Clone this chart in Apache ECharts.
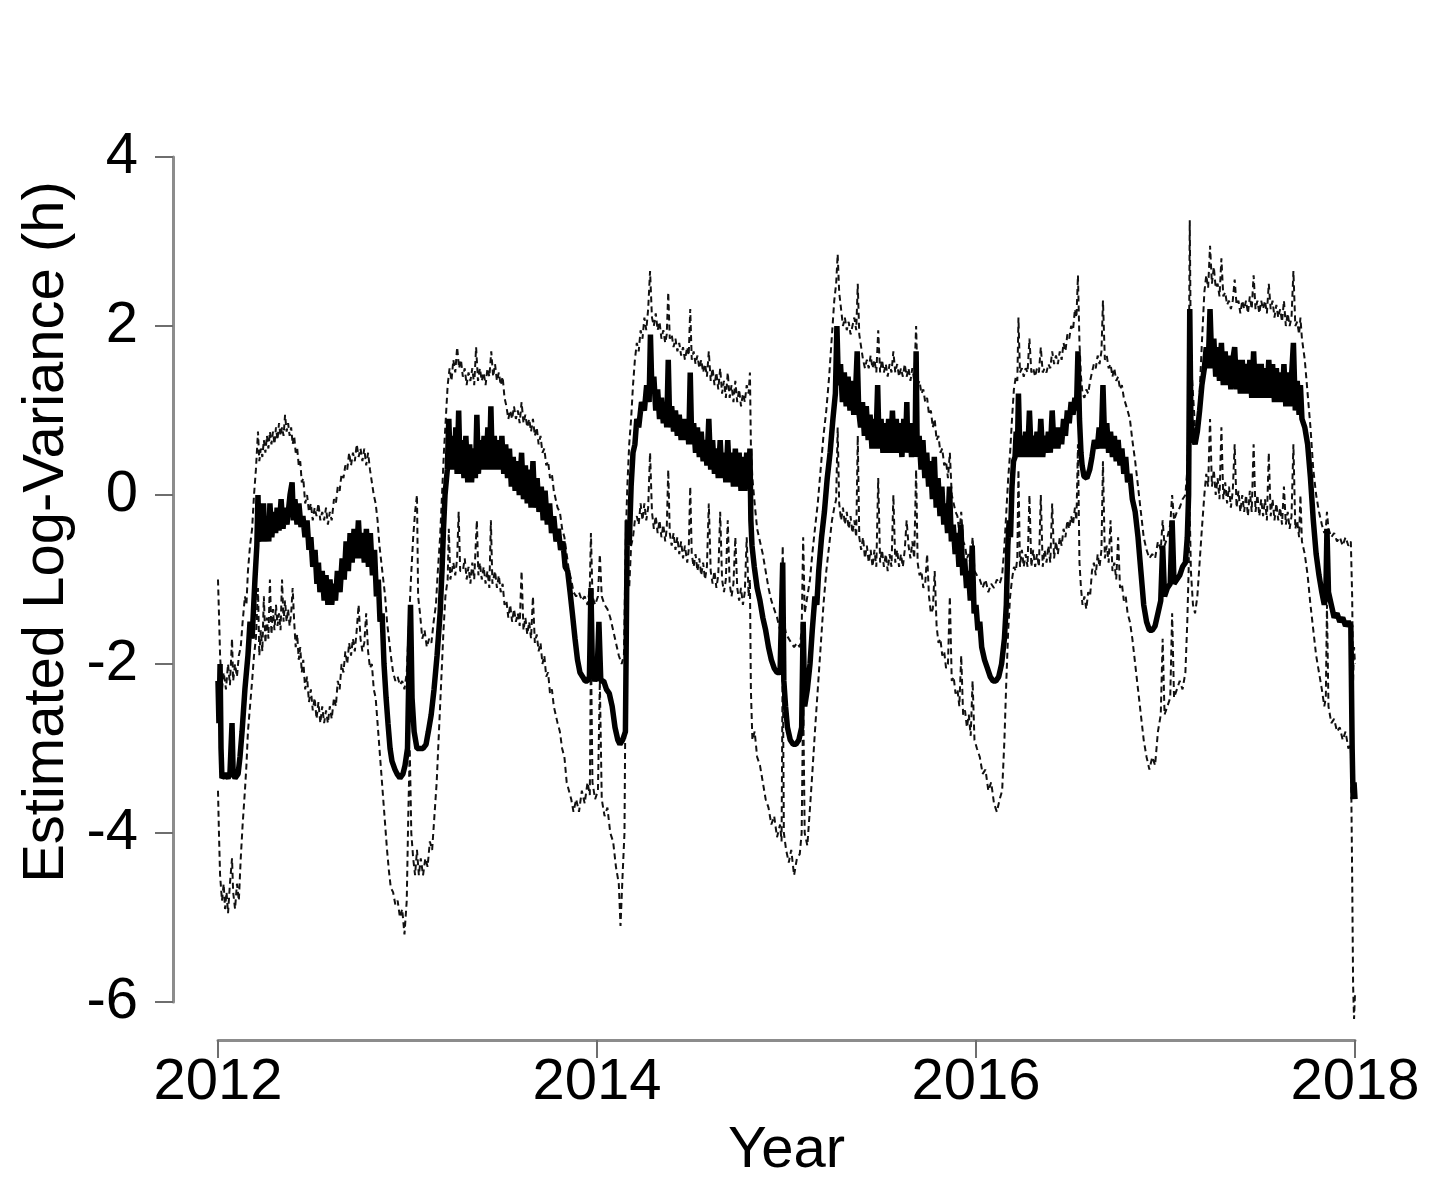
<!DOCTYPE html>
<html>
<head>
<meta charset="utf-8">
<script src="https://cdn.jsdelivr.net/npm/echarts@6/dist/echarts.min.js"></script>
<style>
html,body{margin:0;padding:0;background:#fff;}
#chart{width:1435px;height:1196px;}
</style>
</head>
<body>
<div id="chart"></div>
<script>
// ---- Data: [decimal year, estimated log-variance] ----
const xTicks = [2012, 2014, 2016, 2018];
const yTicks = [-6, -4, -2, 0, 2, 4];

const meanLine = [
[2012.000,-2.2],[2012.005,-2.7],[2012.011,-2.0],[2012.016,-3.0],[2012.021,-3.35],[2012.037,-3.3],[2012.053,-3.35],[2012.063,-3.3],[2012.074,-2.7],[2012.080,-3.3],[2012.090,-3.35],[2012.106,-3.3],[2012.116,-3.1],[2012.127,-2.8],[2012.142,-2.3],[2012.158,-1.9],[2012.169,-1.5],[2012.180,-1.7],[2012.195,-1.0],[2012.205,-0.6],[2012.211,0.0],[2012.216,-0.5],[2012.222,-0.4],
[2012.232,-0.55],[2012.240,-0.1],[2012.248,-0.55],[2012.258,-0.25],[2012.268,-0.55],[2012.274,-0.1],[2012.284,-0.5],[2012.294,-0.2],[2012.304,-0.45],[2012.312,-0.15],[2012.322,-0.42],[2012.333,-0.05],[2012.343,-0.4],[2012.354,-0.15],[2012.364,-0.35],[2012.380,0.0],[2012.391,0.15],[2012.398,-0.3],[2012.406,-0.05],[2012.417,-0.35],[2012.427,-0.1],[2012.438,-0.38],[2012.448,-0.25],[2012.459,-0.5],[2012.470,-0.3],[2012.480,-0.65],[2012.490,-0.5],[2012.500,-0.85],[2012.512,-0.65],[2012.522,-1.05],[2012.530,-0.8],[2012.538,-1.15],[2012.550,-0.9],[2012.560,-1.25],[2012.570,-0.95],[2012.580,-1.3],[2012.591,-1.0],[2012.600,-1.3],[2012.610,-1.05],[2012.620,-1.25],[2012.630,-0.9],[2012.644,-1.15],[2012.655,-0.75],[2012.666,-1.0],[2012.676,-0.55],[2012.688,-0.9],[2012.697,-0.45],[2012.708,-0.8],[2012.718,-0.4],[2012.730,-0.75],[2012.741,-0.3],[2012.752,-0.75],[2012.762,-0.45],[2012.772,-0.8],[2012.783,-0.4],[2012.794,-0.85],[2012.804,-0.45],[2012.815,-0.95],[2012.826,-0.65],[2012.836,-1.2],[2012.846,-1.0],[2012.855,-1.5],[2012.866,-1.4],[2012.876,-2.0],[2012.887,-2.4],[2012.897,-2.7],[2012.908,-3.0],[2012.918,-3.15],[2012.934,-3.25],[2012.945,-3.3],[2012.960,-3.35],[2012.976,-3.3],[2012.987,-3.2],
[2013.000,-3.0],[2013.008,-2.0],[2013.016,-1.3],[2013.024,-2.4],[2013.035,-2.8],[2013.050,-3.0],[2013.066,-3.0],[2013.082,-3.0],[2013.098,-2.95],[2013.110,-2.8],[2013.125,-2.6],[2013.140,-2.3],[2013.156,-1.9],[2013.172,-1.4],[2013.182,-0.9],[2013.190,-0.4],[2013.198,0.0],[2013.210,0.3],[2013.218,0.9],[2013.226,0.3],[2013.236,0.7],[2013.246,0.3],[2013.255,0.8],[2013.262,0.25],[2013.270,1.0],[2013.278,0.25],[2013.288,0.65],[2013.298,0.2],[2013.308,0.7],[2013.318,0.15],[2013.328,0.6],[2013.338,0.15],[2013.348,0.55],[2013.358,0.2],[2013.366,0.95],[2013.374,0.25],[2013.384,0.65],[2013.394,0.3],[2013.404,0.7],[2013.414,0.3],[2013.424,0.8],[2013.432,0.3],[2013.440,1.05],[2013.448,0.3],[2013.458,0.7],[2013.468,0.3],[2013.478,0.65],[2013.488,0.3],[2013.498,0.7],[2013.508,0.25],[2013.518,0.6],[2013.528,0.2],[2013.538,0.55],[2013.548,0.1],[2013.558,0.45],[2013.568,0.05],[2013.580,0.4],[2013.590,0.0],[2013.602,0.5],[2013.612,-0.05],[2013.622,0.35],[2013.632,-0.1],[2013.642,0.3],[2013.652,-0.15],[2013.662,0.4],[2013.672,-0.15],[2013.684,0.2],[2013.694,-0.2],[2013.706,0.1],[2013.716,-0.3],[2013.726,0.05],[2013.738,-0.35],[2013.750,-0.1],[2013.760,-0.45],[2013.772,-0.25],[2013.784,-0.55],[2013.796,-0.4],[2013.808,-0.65],[2013.820,-0.55],[2013.832,-0.85],[2013.845,-0.9],[2013.858,-1.15],[2013.870,-1.4],[2013.884,-1.7],[2013.897,-1.95],[2013.910,-2.1],[2013.924,-2.15],[2013.937,-2.2],[2013.950,-2.2],[2013.960,-2.15],[2013.968,-1.1],[2013.976,-2.1],[2013.989,-2.2],
[2014.000,-2.15],[2014.010,-1.5],[2014.020,-2.2],[2014.035,-2.2],[2014.050,-2.3],[2014.065,-2.35],[2014.080,-2.5],[2014.095,-2.75],[2014.110,-2.9],[2014.121,-2.95],[2014.135,-2.9],[2014.150,-2.8],[2014.160,-0.3],[2014.170,-0.6],[2014.180,0.1],[2014.190,0.5],[2014.200,0.6],[2014.210,0.9],[2014.220,0.8],[2014.235,1.1],[2014.250,1.0],[2014.262,1.3],[2014.275,1.1],[2014.282,1.9],[2014.290,1.2],[2014.300,1.4],[2014.310,1.0],[2014.320,1.25],[2014.330,0.9],[2014.340,1.15],[2014.350,0.85],[2014.360,1.1],[2014.368,0.8],[2014.376,1.6],[2014.384,0.8],[2014.394,1.05],[2014.404,0.75],[2014.414,1.0],[2014.424,0.7],[2014.434,0.95],[2014.444,0.65],[2014.454,0.9],[2014.464,0.65],[2014.476,0.9],[2014.484,0.6],[2014.492,1.45],[2014.500,0.6],[2014.510,0.85],[2014.520,0.5],[2014.530,0.8],[2014.540,0.45],[2014.550,0.75],[2014.560,0.4],[2014.570,0.65],[2014.580,0.35],[2014.590,0.9],[2014.600,0.3],[2014.610,0.65],[2014.620,0.25],[2014.630,0.55],[2014.640,0.2],[2014.650,0.65],[2014.660,0.2],[2014.670,0.5],[2014.680,0.15],[2014.690,0.65],[2014.700,0.15],[2014.710,0.5],[2014.720,0.1],[2014.730,0.55],[2014.740,0.1],[2014.750,0.5],[2014.760,0.05],[2014.770,0.45],[2014.780,0.05],[2014.790,0.5],[2014.800,0.1],[2014.807,0.55],[2014.812,-0.3],[2014.818,-0.6],[2014.830,-0.85],[2014.845,-1.1],[2014.860,-1.25],[2014.875,-1.45],[2014.890,-1.6],[2014.905,-1.8],[2014.920,-1.95],[2014.935,-2.05],[2014.950,-2.1],[2014.966,-2.1],[2014.974,-2.1],[2014.980,-0.8],[2014.986,-2.2],[2014.995,-2.5],
[2015.005,-2.75],[2015.020,-2.9],[2015.035,-2.95],[2015.050,-2.95],[2015.065,-2.9],[2015.080,-2.75],[2015.088,-1.5],[2015.096,-2.5],[2015.110,-2.3],[2015.124,-2.0],[2015.136,-1.6],[2015.150,-1.2],[2015.160,-1.3],[2015.170,-0.9],[2015.185,-0.5],[2015.200,-0.2],[2015.215,0.2],[2015.230,0.5],[2015.245,0.9],[2015.258,1.2],[2015.266,2.0],[2015.274,1.3],[2015.285,1.55],[2015.295,1.1],[2015.305,1.45],[2015.315,1.05],[2015.325,1.4],[2015.335,1.0],[2015.345,1.35],[2015.355,0.95],[2015.365,1.25],[2015.373,1.7],[2015.381,1.0],[2015.391,0.8],[2015.401,1.1],[2015.411,0.7],[2015.421,1.05],[2015.431,0.65],[2015.441,0.95],[2015.451,0.55],[2015.461,0.9],[2015.471,0.55],[2015.481,1.3],[2015.489,0.55],[2015.499,0.9],[2015.509,0.5],[2015.519,0.85],[2015.529,0.5],[2015.539,0.9],[2015.549,0.5],[2015.559,1.0],[2015.569,0.5],[2015.579,0.9],[2015.589,0.5],[2015.599,0.85],[2015.609,0.45],[2015.619,0.9],[2015.627,0.5],[2015.635,1.1],[2015.640,0.5],[2015.650,0.85],[2015.660,0.45],[2015.670,0.85],[2015.678,0.45],[2015.684,1.7],[2015.690,0.45],[2015.700,0.7],[2015.710,0.3],[2015.720,0.65],[2015.730,0.2],[2015.740,0.5],[2015.750,0.1],[2015.760,0.4],[2015.770,-0.05],[2015.780,0.45],[2015.790,-0.15],[2015.800,0.2],[2015.810,-0.25],[2015.820,0.1],[2015.830,-0.35],[2015.840,-0.1],[2015.850,-0.45],[2015.860,0.1],[2015.870,-0.55],[2015.880,-0.35],[2015.890,-0.7],[2015.900,-0.45],[2015.910,-0.85],[2015.920,-0.35],[2015.930,-0.95],[2015.940,-0.75],[2015.950,-1.1],[2015.960,-0.9],[2015.970,-1.25],[2015.980,-0.6],[2015.990,-1.4],
[2016.000,-1.3],[2016.010,-1.6],[2016.020,-1.5],[2016.030,-1.8],[2016.045,-1.95],[2016.060,-2.05],[2016.075,-2.15],[2016.090,-2.2],[2016.105,-2.2],[2016.120,-2.15],[2016.135,-2.0],[2016.150,-1.7],[2016.160,-1.3],[2016.168,-0.6],[2016.175,-0.3],[2016.182,-0.5],[2016.190,0.1],[2016.198,0.4],[2016.206,0.45],[2016.212,0.75],[2016.218,0.45],[2016.224,1.2],[2016.232,0.45],[2016.242,0.7],[2016.252,0.45],[2016.262,0.75],[2016.272,0.45],[2016.282,1.0],[2016.292,0.45],[2016.302,0.7],[2016.312,0.45],[2016.322,0.75],[2016.332,0.45],[2016.342,0.9],[2016.352,0.45],[2016.362,0.7],[2016.372,0.5],[2016.382,0.75],[2016.392,0.5],[2016.402,1.0],[2016.412,0.55],[2016.422,0.8],[2016.432,0.55],[2016.442,0.8],[2016.452,0.6],[2016.462,0.9],[2016.472,0.7],[2016.482,1.0],[2016.492,0.85],[2016.502,1.1],[2016.512,0.95],[2016.522,1.15],[2016.530,1.0],[2016.538,1.7],[2016.546,0.9],[2016.554,0.5],[2016.560,0.35],[2016.570,0.22],[2016.585,0.2],[2016.600,0.3],[2016.612,0.45],[2016.625,0.65],[2016.640,0.55],[2016.650,0.8],[2016.660,0.55],[2016.670,1.3],[2016.680,0.55],[2016.690,0.85],[2016.700,0.5],[2016.710,0.75],[2016.720,0.45],[2016.730,0.7],[2016.740,0.4],[2016.750,0.65],[2016.760,0.35],[2016.770,0.55],[2016.780,0.25],[2016.790,0.45],[2016.800,0.15],[2016.812,0.25],[2016.825,-0.05],[2016.840,-0.2],[2016.855,-0.5],[2016.870,-0.9],[2016.885,-1.3],[2016.900,-1.5],[2016.915,-1.6],[2016.930,-1.6],[2016.945,-1.55],[2016.960,-1.4],[2016.975,-1.25],[2016.985,-0.6],[2016.995,-1.2],
[2017.010,-1.1],[2017.025,-1.05],[2017.035,-0.3],[2017.045,-1.05],[2017.060,-1.0],[2017.075,-0.95],[2017.090,-0.85],[2017.105,-0.8],[2017.115,-0.5],[2017.122,0.0],[2017.128,2.2],[2017.134,0.9],[2017.145,0.7],[2017.156,0.6],[2017.168,0.75],[2017.180,1.0],[2017.192,1.3],[2017.205,1.5],[2017.215,1.75],[2017.225,1.5],[2017.235,2.2],[2017.245,1.5],[2017.255,1.85],[2017.265,1.4],[2017.275,1.75],[2017.285,1.35],[2017.295,1.8],[2017.305,1.3],[2017.315,1.7],[2017.325,1.3],[2017.335,1.65],[2017.345,1.25],[2017.355,1.6],[2017.365,1.75],[2017.375,1.25],[2017.385,1.6],[2017.395,1.2],[2017.405,1.6],[2017.415,1.2],[2017.425,1.55],[2017.435,1.2],[2017.445,1.6],[2017.455,1.15],[2017.465,1.7],[2017.475,1.15],[2017.485,1.55],[2017.495,1.15],[2017.505,1.55],[2017.515,1.15],[2017.525,1.5],[2017.535,1.15],[2017.545,1.6],[2017.555,1.15],[2017.565,1.55],[2017.575,1.1],[2017.585,1.5],[2017.595,1.1],[2017.605,1.45],[2017.615,1.1],[2017.625,1.55],[2017.635,1.05],[2017.645,1.45],[2017.655,1.05],[2017.665,1.4],[2017.675,1.8],[2017.685,1.0],[2017.695,1.35],[2017.705,0.95],[2017.712,1.3],[2017.720,0.9],[2017.735,0.8],[2017.750,0.6],[2017.765,0.2],[2017.780,-0.3],[2017.795,-0.7],[2017.810,-0.95],[2017.825,-1.15],[2017.838,-1.3],[2017.846,-1.2],[2017.852,-0.4],[2017.860,-1.15],[2017.875,-1.3],[2017.890,-1.45],[2017.905,-1.4],[2017.920,-1.5],[2017.935,-1.45],[2017.950,-1.55],[2017.965,-1.5],[2017.978,-1.55],[2017.985,-3.0],[2017.990,-3.6],[2017.995,-3.4],[2018.000,-3.6]
];

const upperBound = [
[2012.000,-1.0],[2012.005,-1.4],[2012.011,-1.9],[2012.021,-2.3],[2012.030,-2.1],[2012.042,-2.3],[2012.053,-2.0],[2012.063,-2.25],[2012.074,-1.7],[2012.080,-2.2],[2012.090,-2.0],[2012.100,-2.15],[2012.110,-1.9],[2012.120,-1.8],[2012.130,-1.5],[2012.142,-1.2],[2012.150,-1.3],[2012.158,-0.9],[2012.169,-0.6],[2012.180,-0.4],[2012.190,0.0],[2012.200,0.3],[2012.211,0.75],[2012.218,0.4],[2012.226,0.55],[2012.234,0.45],[2012.242,0.65],[2012.250,0.5],[2012.258,0.7],[2012.266,0.55],[2012.274,0.75],[2012.282,0.6],[2012.290,0.75],[2012.298,0.6],[2012.306,0.8],[2012.314,0.65],[2012.322,0.85],[2012.330,0.7],[2012.338,0.8],[2012.346,0.7],[2012.354,0.95],[2012.362,0.75],[2012.370,0.85],[2012.378,0.7],[2012.386,0.8],[2012.394,0.6],[2012.402,0.7],[2012.410,0.5],[2012.418,0.55],[2012.426,0.35],[2012.434,0.4],[2012.442,0.15],[2012.450,0.2],[2012.460,-0.1],[2012.470,0.0],[2012.480,-0.2],[2012.490,-0.1],[2012.500,-0.3],[2012.510,-0.15],[2012.520,-0.25],[2012.530,-0.1],[2012.540,-0.3],[2012.550,-0.2],[2012.560,-0.3],[2012.570,-0.15],[2012.580,-0.35],[2012.590,-0.2],[2012.600,-0.3],[2012.612,-0.05],[2012.622,-0.1],[2012.632,0.1],[2012.642,0.05],[2012.652,0.25],[2012.662,0.2],[2012.672,0.35],[2012.682,0.3],[2012.692,0.5],[2012.702,0.35],[2012.712,0.5],[2012.722,0.4],[2012.732,0.6],[2012.742,0.45],[2012.752,0.55],[2012.762,0.4],[2012.772,0.55],[2012.782,0.35],[2012.792,0.5],[2012.802,0.3],[2012.812,0.3],[2012.822,0.0],[2012.832,-0.1],[2012.842,-0.3],[2012.852,-0.6],[2012.862,-0.8],[2012.872,-1.0],[2012.882,-1.2],[2012.892,-1.5],[2012.902,-1.7],[2012.912,-1.9],[2012.924,-2.1],[2012.936,-2.2],[2012.948,-2.15],[2012.960,-2.25],[2012.972,-2.2],[2012.984,-2.3],[2012.996,-2.1],
[2013.008,-1.5],[2013.018,-1.0],[2013.030,-0.5],[2013.040,-0.2],[2013.050,0.0],[2013.056,-1.2],[2013.066,-1.4],[2013.078,-1.7],[2013.090,-1.6],[2013.102,-1.8],[2013.114,-1.7],[2013.126,-1.75],[2013.138,-1.5],[2013.150,-1.3],[2013.160,-0.9],[2013.172,-0.5],[2013.182,0.0],[2013.192,0.5],[2013.202,0.9],[2013.212,1.3],[2013.222,1.5],[2013.232,1.35],[2013.242,1.6],[2013.252,1.45],[2013.262,1.75],[2013.272,1.5],[2013.282,1.6],[2013.292,1.4],[2013.302,1.5],[2013.312,1.3],[2013.322,1.45],[2013.332,1.35],[2013.342,1.5],[2013.352,1.3],[2013.362,1.75],[2013.372,1.35],[2013.382,1.5],[2013.392,1.35],[2013.402,1.45],[2013.412,1.3],[2013.422,1.5],[2013.432,1.4],[2013.442,1.7],[2013.452,1.4],[2013.462,1.55],[2013.472,1.35],[2013.482,1.45],[2013.492,1.3],[2013.502,1.4],[2013.512,1.15],[2013.522,1.05],[2013.532,0.9],[2013.542,1.0],[2013.552,0.9],[2013.562,1.05],[2013.572,0.9],[2013.582,1.0],[2013.592,0.85],[2013.602,1.1],[2013.612,0.85],[2013.622,0.95],[2013.632,0.8],[2013.642,0.9],[2013.652,0.75],[2013.662,0.9],[2013.672,0.7],[2013.682,0.8],[2013.692,0.6],[2013.702,0.7],[2013.712,0.5],[2013.722,0.55],[2013.732,0.35],[2013.742,0.4],[2013.752,0.2],[2013.762,0.25],[2013.772,0.05],[2013.782,0.05],[2013.792,-0.15],[2013.804,-0.2],[2013.816,-0.4],[2013.828,-0.5],[2013.840,-0.7],[2013.852,-0.9],[2013.864,-1.0],[2013.876,-1.15],[2013.890,-1.2],[2013.905,-1.15],[2013.920,-1.25],[2013.935,-1.2],[2013.950,-1.3],[2013.962,-1.1],[2013.968,-0.45],[2013.976,-1.2],[2013.990,-1.3],
[2014.005,-1.2],[2014.015,-0.7],[2014.025,-1.2],[2014.040,-1.3],[2014.055,-1.35],[2014.070,-1.45],[2014.085,-1.6],[2014.100,-1.75],[2014.115,-1.9],[2014.130,-2.0],[2014.142,-1.9],[2014.152,-0.5],[2014.160,0.1],[2014.170,0.6],[2014.180,0.9],[2014.190,1.3],[2014.200,1.6],[2014.210,1.8],[2014.220,1.7],[2014.230,1.95],[2014.240,1.85],[2014.250,2.1],[2014.260,1.95],[2014.270,2.2],[2014.280,2.65],[2014.290,2.1],[2014.300,2.0],[2014.310,2.15],[2014.320,1.95],[2014.330,2.05],[2014.340,1.85],[2014.350,1.95],[2014.360,1.8],[2014.368,1.9],[2014.376,2.4],[2014.384,1.85],[2014.394,1.9],[2014.404,1.75],[2014.414,1.85],[2014.424,1.7],[2014.434,1.8],[2014.444,1.65],[2014.454,1.75],[2014.464,1.6],[2014.476,1.75],[2014.484,1.65],[2014.492,2.2],[2014.500,1.6],[2014.510,1.7],[2014.520,1.55],[2014.530,1.65],[2014.540,1.5],[2014.550,1.6],[2014.560,1.45],[2014.570,1.55],[2014.580,1.4],[2014.590,1.7],[2014.600,1.35],[2014.610,1.5],[2014.620,1.3],[2014.630,1.45],[2014.640,1.25],[2014.650,1.5],[2014.660,1.2],[2014.670,1.35],[2014.680,1.15],[2014.690,1.45],[2014.700,1.15],[2014.710,1.3],[2014.720,1.1],[2014.730,1.35],[2014.740,1.1],[2014.750,1.25],[2014.760,1.05],[2014.770,1.2],[2014.780,1.1],[2014.790,1.3],[2014.800,1.2],[2014.807,1.45],[2014.812,0.6],[2014.820,0.2],[2014.832,-0.1],[2014.845,-0.4],[2014.860,-0.55],[2014.875,-0.7],[2014.890,-0.9],[2014.905,-1.1],[2014.920,-1.25],[2014.935,-1.35],[2014.950,-1.45],[2014.966,-1.6],[2014.974,-1.55],[2014.980,-0.6],[2014.986,-1.5],[2014.998,-1.65],
[2015.012,-1.7],[2015.025,-1.75],[2015.040,-1.8],[2015.055,-1.75],[2015.070,-1.8],[2015.080,-1.6],[2015.088,-0.5],[2015.096,-1.4],[2015.110,-1.2],[2015.124,-1.0],[2015.136,-0.7],[2015.150,-0.4],[2015.165,-0.1],[2015.180,0.3],[2015.195,0.7],[2015.210,1.0],[2015.225,1.4],[2015.240,1.9],[2015.252,2.3],[2015.262,2.5],[2015.270,2.85],[2015.278,2.4],[2015.288,2.2],[2015.298,2.0],[2015.308,2.1],[2015.318,1.95],[2015.328,2.05],[2015.338,1.9],[2015.348,2.0],[2015.358,2.1],[2015.368,1.95],[2015.376,2.5],[2015.384,1.9],[2015.394,1.75],[2015.404,1.6],[2015.414,1.5],[2015.424,1.6],[2015.434,1.5],[2015.444,1.65],[2015.454,1.5],[2015.464,1.6],[2015.474,1.45],[2015.484,1.95],[2015.494,1.45],[2015.504,1.6],[2015.514,1.45],[2015.524,1.55],[2015.534,1.4],[2015.544,1.55],[2015.554,1.45],[2015.564,1.7],[2015.574,1.45],[2015.584,1.55],[2015.594,1.4],[2015.604,1.5],[2015.614,1.4],[2015.624,1.55],[2015.634,1.4],[2015.644,1.5],[2015.654,1.35],[2015.664,1.5],[2015.674,1.35],[2015.684,2.0],[2015.692,1.3],[2015.702,1.35],[2015.712,1.2],[2015.722,1.25],[2015.732,1.1],[2015.742,1.15],[2015.752,0.95],[2015.762,1.0],[2015.772,0.8],[2015.782,0.9],[2015.792,0.65],[2015.802,0.7],[2015.812,0.5],[2015.822,0.55],[2015.832,0.35],[2015.842,0.4],[2015.852,0.2],[2015.862,0.5],[2015.872,0.0],[2015.882,0.0],[2015.892,-0.2],[2015.902,-0.25],[2015.912,-0.45],[2015.922,-0.2],[2015.932,-0.55],[2015.942,-0.6],[2015.952,-0.75],[2015.962,-0.7],[2015.972,-0.85],[2015.982,-0.5],[2015.992,-0.9],
[2016.005,-0.95],[2016.020,-1.0],[2016.035,-1.1],[2016.050,-1.0],[2016.065,-1.15],[2016.080,-1.05],[2016.095,-1.1],[2016.110,-1.0],[2016.125,-1.05],[2016.138,-0.95],[2016.150,-0.6],[2016.160,-0.2],[2016.170,0.2],[2016.180,0.5],[2016.190,0.9],[2016.200,1.25],[2016.210,1.4],[2016.218,1.35],[2016.224,2.1],[2016.232,1.45],[2016.242,1.5],[2016.252,1.4],[2016.262,1.5],[2016.272,1.45],[2016.282,1.85],[2016.292,1.45],[2016.302,1.5],[2016.312,1.4],[2016.322,1.5],[2016.332,1.45],[2016.342,1.75],[2016.352,1.45],[2016.362,1.5],[2016.372,1.45],[2016.382,1.55],[2016.392,1.5],[2016.402,1.7],[2016.412,1.55],[2016.422,1.65],[2016.432,1.55],[2016.442,1.7],[2016.452,1.6],[2016.462,1.8],[2016.472,1.7],[2016.482,1.9],[2016.492,1.85],[2016.502,2.0],[2016.512,1.95],[2016.522,2.2],[2016.530,2.1],[2016.538,2.6],[2016.546,1.8],[2016.554,1.4],[2016.562,1.2],[2016.572,1.15],[2016.582,1.25],[2016.592,1.2],[2016.602,1.35],[2016.612,1.45],[2016.622,1.55],[2016.632,1.5],[2016.642,1.65],[2016.652,1.55],[2016.662,1.7],[2016.670,2.3],[2016.680,1.6],[2016.690,1.65],[2016.700,1.5],[2016.710,1.55],[2016.720,1.4],[2016.730,1.5],[2016.740,1.35],[2016.750,1.4],[2016.760,1.25],[2016.770,1.3],[2016.780,1.15],[2016.790,1.15],[2016.800,1.0],[2016.812,0.9],[2016.825,0.65],[2016.840,0.4],[2016.855,0.1],[2016.870,-0.2],[2016.885,-0.5],[2016.900,-0.65],[2016.915,-0.75],[2016.930,-0.7],[2016.945,-0.75],[2016.960,-0.55],[2016.975,-0.65],[2016.985,-0.3],[2016.995,-0.6],
[2017.010,-0.5],[2017.025,-0.35],[2017.035,0.0],[2017.045,-0.3],[2017.060,-0.2],[2017.075,-0.15],[2017.090,-0.05],[2017.105,0.0],[2017.115,0.3],[2017.122,1.0],[2017.128,3.25],[2017.134,1.6],[2017.145,1.2],[2017.156,0.8],[2017.168,0.7],[2017.180,1.2],[2017.192,1.8],[2017.205,2.4],[2017.215,2.6],[2017.225,2.45],[2017.235,2.95],[2017.245,2.5],[2017.255,2.7],[2017.265,2.45],[2017.275,2.5],[2017.285,2.35],[2017.295,2.8],[2017.305,2.35],[2017.315,2.4],[2017.325,2.25],[2017.335,2.3],[2017.345,2.2],[2017.355,2.3],[2017.365,2.55],[2017.375,2.25],[2017.385,2.3],[2017.395,2.15],[2017.405,2.3],[2017.415,2.2],[2017.425,2.3],[2017.435,2.15],[2017.445,2.35],[2017.455,2.2],[2017.465,2.6],[2017.475,2.2],[2017.485,2.3],[2017.495,2.15],[2017.505,2.3],[2017.515,2.2],[2017.525,2.3],[2017.535,2.15],[2017.545,2.5],[2017.555,2.2],[2017.565,2.3],[2017.575,2.1],[2017.585,2.25],[2017.595,2.1],[2017.605,2.2],[2017.615,2.05],[2017.625,2.3],[2017.635,2.0],[2017.645,2.15],[2017.655,2.0],[2017.665,2.1],[2017.675,2.65],[2017.685,2.0],[2017.695,2.05],[2017.705,1.9],[2017.712,2.1],[2017.720,1.85],[2017.735,1.6],[2017.750,1.2],[2017.765,0.8],[2017.780,0.3],[2017.795,0.0],[2017.810,-0.2],[2017.825,-0.35],[2017.838,-0.45],[2017.846,-0.4],[2017.852,-0.2],[2017.860,-0.4],[2017.875,-0.5],[2017.890,-0.45],[2017.905,-0.55],[2017.920,-0.5],[2017.935,-0.6],[2017.950,-0.5],[2017.965,-0.6],[2017.978,-0.55],[2017.985,-1.2],[2017.990,-2.2],[2017.995,-1.8],[2018.000,-2.0]
];

const lowerBound = [
[2012.000,-3.5],[2012.005,-4.0],[2012.011,-4.5],[2012.021,-4.8],[2012.030,-4.6],[2012.037,-4.9],[2012.045,-4.7],[2012.053,-4.95],[2012.063,-4.6],[2012.074,-4.3],[2012.080,-4.7],[2012.090,-4.9],[2012.100,-4.6],[2012.110,-4.8],[2012.120,-4.3],[2012.130,-3.9],[2012.142,-3.5],[2012.150,-3.2],[2012.158,-2.8],[2012.169,-2.5],[2012.180,-2.2],[2012.190,-1.9],[2012.200,-1.7],[2012.211,-1.1],[2012.218,-1.9],[2012.226,-1.6],[2012.234,-1.85],[2012.242,-1.2],[2012.250,-1.75],[2012.258,-1.45],[2012.266,-1.7],[2012.274,-1.0],[2012.282,-1.65],[2012.290,-1.35],[2012.298,-1.6],[2012.306,-1.3],[2012.314,-1.55],[2012.322,-1.4],[2012.330,-1.6],[2012.338,-1.0],[2012.346,-1.5],[2012.354,-1.25],[2012.362,-1.5],[2012.370,-1.35],[2012.378,-1.55],[2012.386,-1.4],[2012.394,-1.1],[2012.402,-1.5],[2012.410,-1.8],[2012.418,-1.65],[2012.426,-1.95],[2012.434,-1.8],[2012.442,-2.1],[2012.450,-1.95],[2012.460,-2.3],[2012.470,-2.15],[2012.480,-2.45],[2012.490,-2.3],[2012.500,-2.55],[2012.510,-2.4],[2012.520,-2.65],[2012.530,-2.45],[2012.540,-2.7],[2012.550,-2.5],[2012.560,-2.7],[2012.570,-2.55],[2012.580,-2.7],[2012.590,-2.5],[2012.600,-2.65],[2012.612,-2.4],[2012.622,-2.5],[2012.632,-2.2],[2012.642,-2.3],[2012.652,-2.0],[2012.662,-2.1],[2012.672,-1.85],[2012.682,-2.0],[2012.692,-1.75],[2012.702,-1.9],[2012.712,-1.7],[2012.722,-1.85],[2012.732,-1.6],[2012.742,-1.3],[2012.752,-1.7],[2012.762,-1.85],[2012.772,-1.75],[2012.782,-1.4],[2012.792,-1.85],[2012.802,-2.05],[2012.812,-2.0],[2012.822,-2.3],[2012.832,-2.4],[2012.842,-2.7],[2012.852,-3.0],[2012.862,-3.3],[2012.872,-3.6],[2012.882,-3.9],[2012.892,-4.2],[2012.902,-4.45],[2012.912,-4.65],[2012.924,-4.7],[2012.936,-4.85],[2012.948,-4.8],[2012.960,-5.0],[2012.972,-4.9],[2012.984,-5.2],[2012.996,-4.8],
[2013.004,-3.8],[2013.012,-3.0],[2013.020,-4.0],[2013.030,-4.3],[2013.040,-4.5],[2013.050,-4.2],[2013.060,-4.5],[2013.070,-4.3],[2013.082,-4.5],[2013.094,-4.3],[2013.106,-4.4],[2013.118,-4.1],[2013.130,-4.2],[2013.142,-3.8],[2013.154,-3.4],[2013.166,-2.8],[2013.178,-2.2],[2013.190,-1.6],[2013.200,-1.2],[2013.212,-1.0],[2013.218,-0.4],[2013.226,-1.0],[2013.242,-0.8],[2013.252,-0.95],[2013.262,-0.75],[2013.270,-0.2],[2013.278,-0.9],[2013.292,-0.9],[2013.302,-0.75],[2013.312,-1.0],[2013.322,-0.85],[2013.332,-1.05],[2013.342,-0.8],[2013.352,-1.0],[2013.366,-0.3],[2013.374,-0.95],[2013.382,-0.8],[2013.392,-1.0],[2013.402,-0.85],[2013.412,-1.05],[2013.422,-0.9],[2013.432,-1.1],[2013.440,-0.3],[2013.448,-1.05],[2013.462,-0.9],[2013.472,-1.1],[2013.482,-0.95],[2013.492,-1.15],[2013.502,-1.05],[2013.512,-1.3],[2013.522,-1.25],[2013.532,-1.45],[2013.542,-1.3],[2013.552,-1.5],[2013.562,-1.35],[2013.572,-1.5],[2013.582,-1.4],[2013.592,-1.55],[2013.602,-0.9],[2013.612,-1.6],[2013.622,-1.45],[2013.632,-1.65],[2013.642,-1.5],[2013.652,-1.7],[2013.662,-1.2],[2013.672,-1.75],[2013.682,-1.65],[2013.692,-1.85],[2013.702,-1.75],[2013.712,-2.0],[2013.722,-1.9],[2013.732,-2.15],[2013.742,-2.1],[2013.752,-2.35],[2013.762,-2.3],[2013.772,-2.5],[2013.782,-2.5],[2013.792,-2.7],[2013.804,-2.8],[2013.816,-3.0],[2013.828,-3.1],[2013.840,-3.4],[2013.852,-3.5],[2013.864,-3.6],[2013.876,-3.75],[2013.890,-3.6],[2013.905,-3.75],[2013.920,-3.5],[2013.935,-3.65],[2013.950,-3.4],[2013.962,-3.55],[2013.968,-1.8],[2013.976,-3.4],[2013.990,-3.6],
[2014.005,-3.5],[2014.015,-2.2],[2014.025,-3.6],[2014.040,-3.8],[2014.055,-3.7],[2014.070,-4.0],[2014.085,-4.1],[2014.100,-4.4],[2014.115,-4.6],[2014.124,-5.1],[2014.135,-4.5],[2014.145,-4.0],[2014.152,-1.8],[2014.160,-1.0],[2014.170,-1.1],[2014.180,-0.6],[2014.190,-0.5],[2014.200,-0.3],[2014.210,-0.25],[2014.220,-0.35],[2014.230,-0.1],[2014.240,-0.3],[2014.250,-0.1],[2014.260,-0.3],[2014.270,-0.15],[2014.280,0.5],[2014.290,-0.2],[2014.300,-0.4],[2014.310,-0.25],[2014.320,-0.45],[2014.330,-0.3],[2014.340,-0.5],[2014.350,-0.35],[2014.360,-0.55],[2014.368,-0.4],[2014.376,0.3],[2014.384,-0.45],[2014.394,-0.6],[2014.404,-0.45],[2014.414,-0.65],[2014.424,-0.5],[2014.434,-0.7],[2014.444,-0.55],[2014.454,-0.75],[2014.464,-0.6],[2014.476,-0.8],[2014.484,-0.65],[2014.492,0.1],[2014.500,-0.7],[2014.510,-0.85],[2014.520,-0.7],[2014.530,-0.9],[2014.540,-0.75],[2014.550,-0.95],[2014.560,-0.8],[2014.570,-1.0],[2014.580,-0.85],[2014.590,-0.1],[2014.600,-0.9],[2014.610,-1.05],[2014.620,-0.9],[2014.630,-1.1],[2014.640,-0.95],[2014.650,-0.2],[2014.660,-1.0],[2014.670,-1.15],[2014.680,-1.0],[2014.690,-0.3],[2014.700,-1.05],[2014.710,-1.2],[2014.720,-1.05],[2014.730,-0.5],[2014.740,-1.1],[2014.750,-1.25],[2014.760,-1.1],[2014.770,-1.3],[2014.780,-1.15],[2014.790,-0.5],[2014.800,-1.2],[2014.807,-1.0],[2014.812,-2.3],[2014.820,-2.9],[2014.832,-2.8],[2014.845,-3.1],[2014.860,-3.2],[2014.875,-3.4],[2014.890,-3.6],[2014.905,-3.7],[2014.920,-3.9],[2014.935,-3.8],[2014.950,-4.05],[2014.966,-3.9],[2014.974,-4.1],[2014.980,-1.8],[2014.986,-4.0],[2014.998,-4.2],
[2015.012,-4.35],[2015.025,-4.2],[2015.040,-4.5],[2015.055,-4.3],[2015.070,-4.25],[2015.080,-4.0],[2015.088,-2.4],[2015.096,-4.0],[2015.110,-4.15],[2015.124,-3.7],[2015.136,-3.3],[2015.150,-2.8],[2015.165,-2.3],[2015.180,-1.8],[2015.195,-1.3],[2015.210,-0.9],[2015.225,-0.6],[2015.240,-0.3],[2015.252,-0.15],[2015.262,-0.05],[2015.270,0.8],[2015.278,-0.1],[2015.288,-0.3],[2015.298,-0.15],[2015.308,-0.35],[2015.318,-0.2],[2015.328,-0.4],[2015.338,-0.25],[2015.348,-0.45],[2015.358,-0.3],[2015.368,-0.5],[2015.376,0.7],[2015.384,-0.5],[2015.394,-0.65],[2015.404,-0.5],[2015.414,-0.75],[2015.424,-0.6],[2015.434,-0.8],[2015.444,-0.65],[2015.454,-0.85],[2015.464,-0.65],[2015.474,-0.85],[2015.484,0.2],[2015.494,-0.8],[2015.504,-0.65],[2015.514,-0.85],[2015.524,-0.7],[2015.534,-0.9],[2015.544,-0.7],[2015.554,-0.85],[2015.564,0.0],[2015.574,-0.8],[2015.584,-0.65],[2015.594,-0.85],[2015.604,-0.7],[2015.614,-0.85],[2015.624,-0.65],[2015.634,-0.3],[2015.644,-0.6],[2015.654,-0.75],[2015.664,-0.55],[2015.674,-0.75],[2015.684,0.3],[2015.692,-0.8],[2015.702,-0.95],[2015.712,-0.9],[2015.722,-1.1],[2015.732,-1.05],[2015.742,-0.7],[2015.752,-1.2],[2015.762,-1.4],[2015.772,-1.35],[2015.782,-0.9],[2015.792,-1.55],[2015.802,-1.75],[2015.812,-1.7],[2015.822,-1.9],[2015.832,-1.85],[2015.842,-2.05],[2015.852,-2.0],[2015.862,-1.2],[2015.872,-2.2],[2015.882,-2.15],[2015.892,-2.35],[2015.902,-2.3],[2015.912,-2.5],[2015.922,-1.9],[2015.932,-2.6],[2015.942,-2.55],[2015.952,-2.75],[2015.962,-2.6],[2015.972,-2.85],[2015.982,-2.2],[2015.992,-2.9],
[2016.005,-3.0],[2016.020,-3.1],[2016.035,-3.3],[2016.050,-3.25],[2016.065,-3.5],[2016.080,-3.4],[2016.095,-3.65],[2016.110,-3.75],[2016.125,-3.6],[2016.138,-3.5],[2016.150,-2.9],[2016.160,-2.2],[2016.170,-1.6],[2016.180,-1.2],[2016.190,-1.0],[2016.200,-0.85],[2016.210,-0.9],[2016.218,-0.75],[2016.224,0.3],[2016.232,-0.85],[2016.242,-0.65],[2016.252,-0.85],[2016.262,-0.7],[2016.272,-0.85],[2016.282,0.0],[2016.292,-0.85],[2016.302,-0.65],[2016.312,-0.85],[2016.322,-0.7],[2016.332,-0.85],[2016.342,0.0],[2016.352,-0.85],[2016.362,-0.65],[2016.372,-0.8],[2016.382,-0.6],[2016.392,-0.8],[2016.402,-0.1],[2016.412,-0.75],[2016.422,-0.55],[2016.432,-0.7],[2016.442,-0.5],[2016.452,-0.6],[2016.462,-0.4],[2016.472,-0.5],[2016.482,-0.3],[2016.492,-0.4],[2016.502,-0.25],[2016.512,-0.35],[2016.522,-0.15],[2016.530,-0.3],[2016.538,0.6],[2016.546,-0.8],[2016.554,-1.1],[2016.562,-1.3],[2016.572,-1.2],[2016.582,-1.35],[2016.592,-1.15],[2016.602,-1.2],[2016.612,-0.9],[2016.622,-0.8],[2016.632,-0.95],[2016.642,-0.7],[2016.652,-0.85],[2016.662,-0.65],[2016.670,0.4],[2016.680,-0.75],[2016.690,-0.6],[2016.700,-0.8],[2016.710,-0.3],[2016.720,-0.9],[2016.730,-0.8],[2016.740,-1.0],[2016.750,-0.5],[2016.760,-1.1],[2016.770,-1.05],[2016.780,-1.25],[2016.790,-1.2],[2016.800,-1.4],[2016.812,-1.5],[2016.825,-1.7],[2016.840,-2.0],[2016.855,-2.3],[2016.870,-2.6],[2016.885,-2.9],[2016.900,-3.1],[2016.915,-3.25],[2016.930,-3.1],[2016.945,-3.2],[2016.960,-2.8],[2016.975,-2.6],[2016.985,-1.7],[2016.995,-2.6],
[2017.010,-2.5],[2017.025,-2.4],[2017.035,-1.4],[2017.045,-2.4],[2017.060,-2.3],[2017.075,-2.2],[2017.090,-2.3],[2017.105,-2.1],[2017.115,-1.5],[2017.122,-0.9],[2017.128,-0.2],[2017.134,-0.9],[2017.145,-1.3],[2017.156,-1.4],[2017.168,-1.2],[2017.180,-0.8],[2017.192,-0.4],[2017.205,0.0],[2017.215,0.25],[2017.225,0.1],[2017.235,0.9],[2017.245,0.1],[2017.255,0.3],[2017.265,0.0],[2017.275,0.2],[2017.285,-0.05],[2017.295,0.8],[2017.305,-0.05],[2017.315,0.15],[2017.325,-0.1],[2017.335,0.1],[2017.345,-0.15],[2017.355,0.05],[2017.365,0.6],[2017.375,-0.15],[2017.385,0.05],[2017.395,-0.2],[2017.405,0.0],[2017.415,-0.2],[2017.425,0.0],[2017.435,-0.25],[2017.445,0.05],[2017.455,-0.2],[2017.465,0.6],[2017.475,-0.2],[2017.485,0.0],[2017.495,-0.25],[2017.505,-0.05],[2017.515,-0.25],[2017.525,-0.05],[2017.535,-0.3],[2017.545,0.5],[2017.555,-0.25],[2017.565,-0.05],[2017.575,-0.3],[2017.585,-0.1],[2017.595,-0.3],[2017.605,-0.15],[2017.615,-0.35],[2017.625,0.1],[2017.635,-0.35],[2017.645,-0.2],[2017.655,-0.4],[2017.665,-0.25],[2017.675,0.6],[2017.685,-0.4],[2017.695,-0.3],[2017.705,-0.5],[2017.712,0.0],[2017.720,-0.55],[2017.735,-0.7],[2017.750,-0.95],[2017.765,-1.3],[2017.780,-1.6],[2017.795,-1.9],[2017.810,-2.1],[2017.825,-2.3],[2017.838,-2.5],[2017.846,-2.4],[2017.852,-1.3],[2017.860,-2.5],[2017.875,-2.7],[2017.890,-2.65],[2017.905,-2.8],[2017.920,-2.75],[2017.935,-2.9],[2017.950,-2.8],[2017.965,-3.0],[2017.978,-2.95],[2017.985,-4.5],[2017.990,-5.8],[2017.995,-6.2],[2018.000,-5.9]
];

const xTitle = 'Year';
const yTitle = 'Estimated Log-Variance (h)';

// ---- Chart ----
const FONT = "'Liberation Sans', Arial, sans-serif";
const FS = 58;
const chart = echarts.init(document.getElementById('chart'), null, {renderer: 'canvas'});
const dashStyle = {color: '#111', width: 2, type: [6, 4]};
chart.setOption({
  animation: false,
  backgroundColor: '#ffffff',
  grid: {left: 218, right: 80, top: 157, bottom: 194, containLabel: false},
  xAxis: {
    type: 'value',
    min: xTicks[0], max: xTicks[xTicks.length - 1], interval: 2,
    offset: 38,
    name: xTitle, nameLocation: 'middle', nameGap: 82,
    nameTextStyle: {fontFamily: FONT, fontSize: FS, color: '#000'},
    axisLine: {show: true, onZero: false, lineStyle: {color: '#8c8c8c', width: 3}},
    axisTick: {show: true, length: 18, lineStyle: {color: '#6e6e6e', width: 2}},
    axisLabel: {fontFamily: FONT, fontSize: FS, color: '#000', margin: 14,
      formatter: v => String(v)},
    splitLine: {show: false}
  },
  yAxis: {
    type: 'value',
    min: yTicks[0], max: yTicks[yTicks.length - 1], interval: 2,
    offset: 45,
    axisLine: {show: true, onZero: false, lineStyle: {color: '#8c8c8c', width: 3}},
    axisTick: {show: true, length: 18, lineStyle: {color: '#6e6e6e', width: 2}},
    axisLabel: {fontFamily: FONT, fontSize: FS, color: '#000', margin: 35,
      formatter: v => String(v)},
    splitLine: {show: false}
  },
  graphic: [{
    type: 'text',
    x: 47, y: 532,
    rotation: Math.PI / 2,
    style: {text: yTitle, fontFamily: FONT, fontSize: FS, fill: '#000',
      textAlign: 'center', textVerticalAlign: 'middle'}
  }],
  series: [
    {type: 'line', name: 'upper', data: upperBound, showSymbol: false, clip: false,
      lineStyle: dashStyle, z: 2},
    {type: 'line', name: 'lower', data: lowerBound, showSymbol: false, clip: false,
      lineStyle: dashStyle, z: 2},
    {type: 'line', name: 'mean', data: meanLine, showSymbol: false, clip: false,
      lineStyle: {color: '#000', width: 5.5, type: 'solid'}, z: 3}
  ]
});
</script>
</body>
</html>
